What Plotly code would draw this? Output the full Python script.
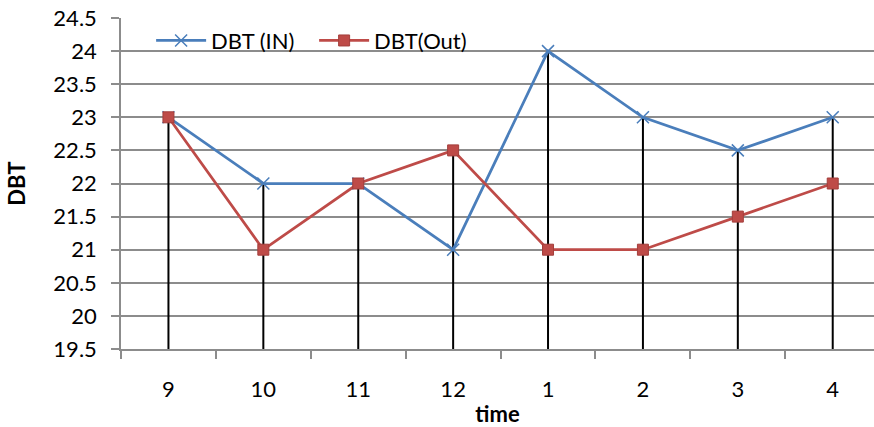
import plotly.graph_objects as go

categories = ["9", "10", "11", "12", "1", "2", "3", "4"]
dbt_in = [23, 22, 22, 21, 24, 23, 22.5, 23]
dbt_out = [23, 21, 22, 22.5, 21, 21, 21.5, 22]
y_min = 19.5

xi = list(range(len(categories)))

# drop lines from the higher point to the axis
dx, dy = [], []
for i, (a, b) in enumerate(zip(dbt_in, dbt_out)):
    dx += [i, i, None]
    dy += [max(a, b), y_min, None]

fig = go.Figure()
fig.add_trace(go.Scatter(x=dx, y=dy, mode="lines", line=dict(color="black", width=2),
                         showlegend=False, hoverinfo="skip"))
fig.add_trace(go.Scatter(x=xi, y=dbt_in, mode="lines+markers", name="DBT (IN)",
                         line=dict(color="#4A7EBB", width=2.75),
                         marker=dict(symbol="x-thin", size=12, line=dict(color="#4A7EBB", width=1.5))))
fig.add_trace(go.Scatter(x=xi, y=dbt_out, mode="lines+markers", name="DBT(Out)",
                         line=dict(color="#BE4B48", width=2.75),
                         marker=dict(symbol="square", size=11, color="#BE4B48",
                                     line=dict(color="#A33E3B", width=1))))

font = "Lato, Open Sans, Liberation Sans, Arial"
fig.update_layout(
    width=874, height=427,
    margin=dict(l=121, r=0, t=18, b=78),
    plot_bgcolor="white", paper_bgcolor="white",
    font=dict(family=font, size=22, color="black"),
    showlegend=True,
    legend=dict(orientation="h", x=0.04, y=0.995, xanchor="left", yanchor="top",
                bgcolor="rgba(0,0,0,0)", font=dict(size=22), itemwidth=50,
                entrywidth=98, entrywidthmode="pixels",
                traceorder="normal"),
    xaxis=dict(
        tickmode="array", tickvals=xi, ticktext=categories,
        range=[-0.5, 7.435], showgrid=False, zeroline=False,
        showline=True, linecolor="#8C8C8C", linewidth=1.5,
        ticks="", ticklabelstandoff=20,
        title=dict(text="<b>time</b>", font=dict(size=22), standoff=5),
    ),
    yaxis=dict(
        range=[19.5, 24.5], dtick=0.5, tick0=19.5,
        showgrid=True, gridcolor="#8C8C8C", gridwidth=1.5, zeroline=False,
        showline=True, linecolor="#8C8C8C", linewidth=1.5,
        ticks="outside", ticklen=8, tickcolor="#8C8C8C", tickwidth=1.5,
        ticklabelstandoff=10,
        title=dict(text="<b>DBT</b>", font=dict(size=22), standoff=22),
    ),
)

# minor category boundary ticks on x axis
fig.update_xaxes(minor=dict(tickmode="array", tickvals=[i - 0.5 for i in xi] + [7.5],
                            ticks="outside", ticklen=8, tickcolor="#8C8C8C", tickwidth=1.5))

fig.write_html("out.html")
